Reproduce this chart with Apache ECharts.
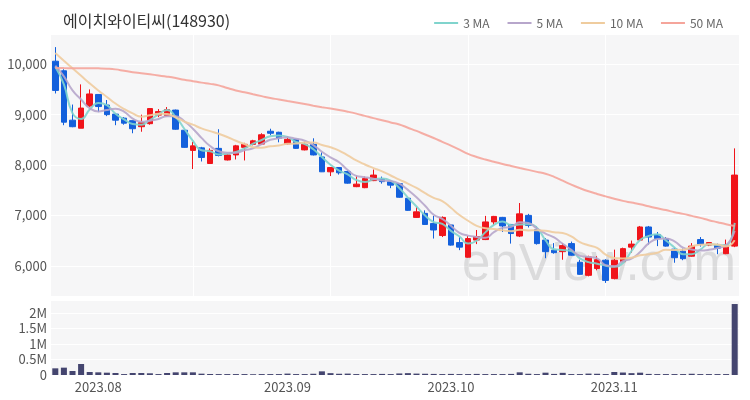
<!DOCTYPE html>
<html><head><meta charset="utf-8">
<script src="https://cdn.jsdelivr.net/npm/echarts@6/dist/echarts.min.js"></script>
<style>html,body{margin:0;padding:0;background:#fff}#c{width:750px;height:400px}</style>
</head><body><div id="c"></div>
<script>
const titleText = '에이치와이티씨(148930)';
const dates = [
 '2023.07.25','2023.07.26','2023.07.27','2023.07.28','2023.07.31',
 '2023.08.01','2023.08.02','2023.08.03','2023.08.04','2023.08.07','2023.08.08','2023.08.09','2023.08.10','2023.08.11',
 '2023.08.14','2023.08.16','2023.08.17','2023.08.18','2023.08.21','2023.08.22','2023.08.23','2023.08.24','2023.08.25',
 '2023.08.28','2023.08.29','2023.08.30','2023.08.31',
 '2023.09.01','2023.09.04','2023.09.05','2023.09.06','2023.09.07','2023.09.08','2023.09.11','2023.09.12','2023.09.13',
 '2023.09.14','2023.09.15','2023.09.18','2023.09.19','2023.09.20','2023.09.21','2023.09.22','2023.09.25','2023.09.26','2023.09.27',
 '2023.10.04','2023.10.05','2023.10.06','2023.10.10','2023.10.11','2023.10.12','2023.10.13','2023.10.16','2023.10.17',
 '2023.10.18','2023.10.19','2023.10.20','2023.10.23','2023.10.24','2023.10.25','2023.10.26','2023.10.27','2023.10.30','2023.10.31',
 '2023.11.01','2023.11.02','2023.11.03','2023.11.06','2023.11.07','2023.11.08','2023.11.09','2023.11.10',
 '2023.11.13','2023.11.14','2023.11.15','2023.11.16','2023.11.17','2023.11.20','2023.11.21'
];
const opens  = [10060,9870,8890,8730,9170,9400,9190,9010,8930,8880,8760,8820,8990,8980,9090,8690,8290,8340,8030,8330,8100,8200,8350,8410,8415,8670,8650,8420,8510,8300,8410,8160,7865,7950,7870,7570,7550,7690,7720,7670,7630,7340,6960,7040,6840,6600,6810,6460,6170,6510,6520,6870,6960,6820,6590,7000,6720,6510,6310,6280,6440,6070,5810,5945,6110,5745,6080,6370,6510,6770,6620,6540,6330,6290,6190,6520,6410,6410,6240,6390];
const highs  = [10340,9900,9200,9600,9500,9400,9290,9030,8950,8880,9000,9130,9110,9150,9100,8700,8460,8360,8330,8710,8210,8400,8440,8500,8630,8720,8660,8575,8520,8460,8530,8250,7955,7960,7890,7790,7770,7910,7770,7700,7640,7350,7170,7100,6990,6980,6820,6570,6590,6710,6990,6990,6970,6830,7245,7030,6780,6550,6450,6450,6480,6120,6200,6190,6130,6320,6360,6500,6790,6790,6670,6570,6360,6340,6450,6570,6470,6440,6520,8330];
const lows   = [9420,8790,8750,8730,9150,9050,8970,8790,8800,8630,8660,8800,8950,8970,8700,8340,7920,8070,8020,8170,8090,8110,8090,8390,8400,8590,8450,8410,8320,8290,8190,7860,7780,7810,7630,7560,7540,7680,7630,7540,7350,7090,6950,6810,6540,6570,6400,6310,6160,6430,6510,6800,6670,6440,6570,6760,6420,6150,6240,6120,6200,5820,5790,5910,5660,5730,6070,6260,6500,6420,6390,6380,6060,6110,6180,6380,6390,6230,6230,6370];
const closes = [9480,8850,8760,9130,9410,9160,9000,8890,8830,8720,8840,9120,9060,9100,8710,8350,8380,8150,8290,8190,8200,8380,8410,8480,8600,8630,8530,8510,8330,8410,8200,7865,7950,7845,7640,7620,7730,7800,7670,7600,7360,7100,7070,6820,6710,6960,6410,6370,6540,6580,6870,6980,6790,6640,7030,6800,6440,6280,6260,6400,6210,5830,6175,6120,5710,6110,6340,6430,6770,6570,6540,6390,6160,6140,6390,6430,6460,6350,6410,7800];
const volumes = [215000,237000,129000,355000,97000,86000,75000,65000,30000,65000,65000,55000,30000,65000,86000,86000,86000,43000,32000,30000,30000,30000,30000,25000,30000,30000,30000,45000,30000,30000,40000,118000,60000,40000,45000,30000,30000,30000,35000,30000,50000,60000,45000,40000,35000,30000,35000,30000,30000,35000,30000,30000,30000,35000,86000,40000,30000,75000,35000,70000,30000,30000,45000,40000,30000,97000,80000,60000,75000,35000,30000,30000,30000,30000,40000,30000,30000,30000,30000,2290000];
const ma3Head = [9950, 9600];
const ma5Head = [9970, 9760, 9480, 9300];
const ma10Head = [10225, 10070, 9920, 9770, 9620, 9480, 9350, 9220, 9110];
const ma50 = [9925,9923,9922,9921,9920,9918,9912,9898,9870,9843,9822,9800,9777,9753,9725,9692,9664,9635,9610,9580,9527,9480,9445,9405,9367,9329,9300,9269,9240,9210,9178,9148,9120,9090,9058,9020,8975,8930,8890,8845,8805,8740,8676,8605,8535,8460,8385,8305,8220,8160,8108,8063,8020,7980,7941,7903,7864,7825,7765,7690,7610,7540,7478,7425,7377,7330,7288,7254,7220,7180,7140,7105,7063,7030,6990,6950,6905,6865,6825,6790];
const xTickDates = ['2023.08.01','2023.09.01','2023.10.04','2023.11.01'];
const xTickLabels = ['2023.08','2023.09','2023.10','2023.11'];
const priceTicks = [6000,7000,8000,9000,10000];
const volTickLabels = {0:'0',500000:'0.5M',1000000:'1M',1500000:'1.5M',2000000:'2M'};

function movingAvg(n, head){
  return closes.map((c,i)=>{
    if(i < head.length) return head[i];
    let s=0; for(let k=i-n+1;k<=i;k++) s+=closes[k];
    return Math.round(s/n);
  });
}
const ma3 = movingAvg(3, ma3Head), ma5 = movingAvg(5, ma5Head), ma10 = movingAvg(10, ma10Head);
const candleData = opens.map((o,i)=>[o, closes[i], lows[i], highs[i]]);

const UP='#f0141a', DOWN='#1360dc';
const FONT='"Noto Sans CJK KR","Noto Sans",sans-serif';
const chart = echarts.init(document.getElementById('c'), null, {renderer:'canvas'});
const maColors = ['#80d4cd','#b7a6cb','#efcc9e','#f5a59b'];
function maSeries(name, data, color){
  return {name, type:'line', data, xAxisIndex:0, yAxisIndex:0, symbol:'none', smooth:true,
    lineStyle:{color, width:2, opacity:0.9}, itemStyle:{color}, z:3, animation:false};
}
chart.setOption({
  animation:false,
  backgroundColor:'#ffffff',
  textStyle:{fontFamily:FONT},
  title:{text:titleText, left:58, top:8, textStyle:{fontSize:16, fontWeight:'normal', color:'#333', fontFamily:FONT}},
  legend:{data:['3 MA','5 MA','10 MA','50 MA'], right:22, top:12, itemWidth:24, itemHeight:2, itemGap:18,
    textStyle:{fontSize:12, color:'#666', fontFamily:FONT}, icon:'rect'},
  graphic:[{type:'text', left:462, top:240, z:1, silent:true,
    style:{text:'enView.com', fontSize:51, fontWeight:'normal', fill:'rgba(150,150,150,0.28)', fontFamily:'"Liberation Sans",sans-serif'}}],
  grid:[
    {left:51, right:11, top:34, height:262, show:true, backgroundColor:'#f6f6f7', borderWidth:0},
    {left:51, right:11, top:300, height:75, show:true, backgroundColor:'#f6f6f7', borderWidth:0}
  ],
  xAxis:[
    {type:'category', data:dates, gridIndex:0, boundaryGap:true,
      axisLine:{show:false}, axisTick:{show:false}, axisLabel:{show:false},
      splitLine:{show:true, alignWithLabel:true, interval:(i)=>i>0 && i%16===0, lineStyle:{color:'#ffffff', width:1}}},
    {type:'category', data:dates, gridIndex:1, boundaryGap:true,
      axisLine:{show:false}, axisTick:{show:false}, splitLine:{show:false},
      axisLabel:{interval:(i,v)=>xTickDates.indexOf(v)>=0, formatter:(v)=>xTickLabels[xTickDates.indexOf(v)]||'',
        fontSize:13, color:'#555', margin:6, fontFamily:FONT}}
  ],
  yAxis:[
    {type:'value', gridIndex:0, min:5400, max:10600, scale:true,
      axisLine:{show:false}, axisTick:{show:false},
      axisLabel:{fontSize:13, color:'#555', margin:4, showMinLabel:false, showMaxLabel:false, fontFamily:FONT,
        formatter:(v)=>priceTicks.indexOf(v)>=0 ? v.toLocaleString('en-US') : ''},
      splitLine:{show:true, lineStyle:{color:'#ffffff', width:1}}},
    {type:'value', gridIndex:1, min:0, max:2420000, interval:500000,
      axisLine:{show:false}, axisTick:{show:false},
      axisLabel:{fontSize:13, color:'#555', margin:4, showMaxLabel:false, fontFamily:FONT,
        formatter:(v)=>volTickLabels[v]!==undefined ? volTickLabels[v] : ''},
      splitLine:{show:true, lineStyle:{color:'#ffffff', width:1}}}
  ],
  series:[
    {name:'price', type:'candlestick', data:candleData, xAxisIndex:0, yAxisIndex:0, barWidth:'70%', z:2,
      itemStyle:{color:UP, color0:DOWN, borderColor:UP, borderColor0:DOWN, borderWidth:1}},
    maSeries('3 MA', ma3, maColors[0]),
    maSeries('5 MA', ma5, maColors[1]),
    maSeries('10 MA', ma10, maColors[2]),
    maSeries('50 MA', ma50, maColors[3]),
    {name:'volume', type:'bar', data:volumes, xAxisIndex:1, yAxisIndex:1, barWidth:'70%',
      itemStyle:{color:'#44456f'}}
  ]
});
</script></body></html>
